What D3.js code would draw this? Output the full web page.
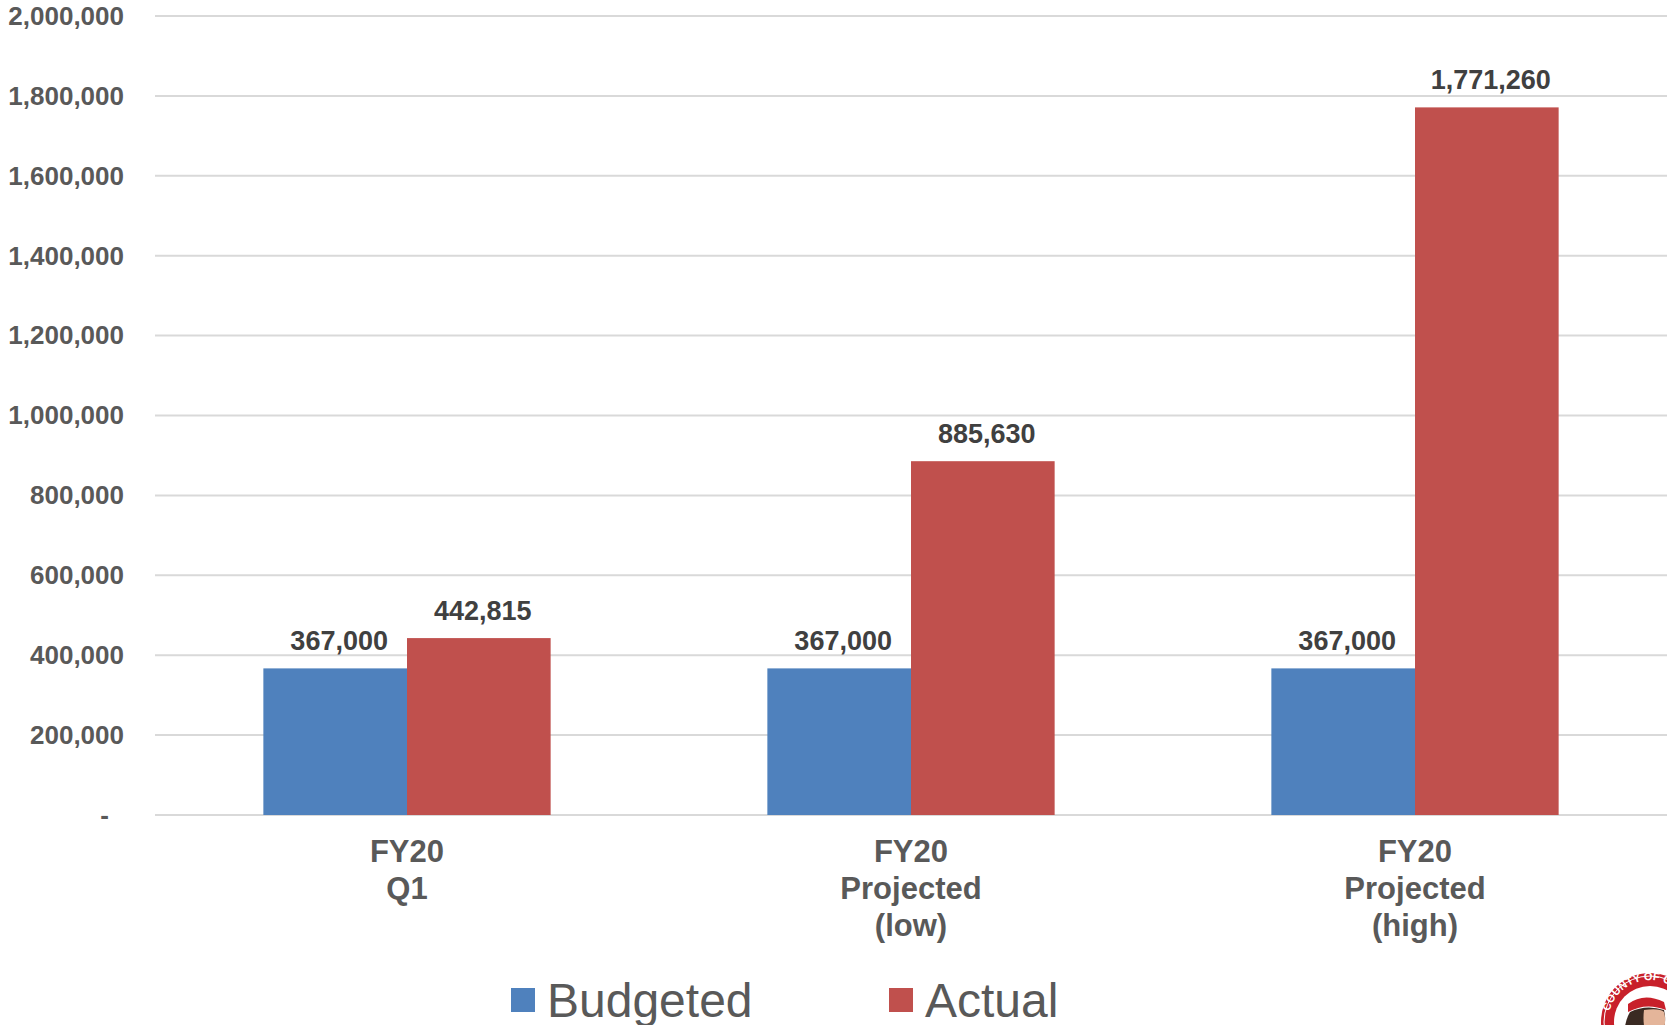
<!DOCTYPE html>
<html>
<head>
<meta charset="utf-8">
<script src="https://cdn.jsdelivr.net/npm/d3@7"></script>
<style>
  body { margin: 0; background: #fff; }
  svg { display: block; font-family: "Liberation Sans", Arial, sans-serif; }
</style>
</head>
<body>
<script>
var categories = [["FY20", "Q1"], ["FY20", "Projected", "(low)"], ["FY20", "Projected", "(high)"]];
var seriesNames = ["Budgeted", "Actual"];
var budgeted = [367000, 367000, 367000];
var actual = [442815, 885630, 1771260];
var yTicks = [0, 200000, 400000, 600000, 800000, 1000000, 1200000, 1400000, 1600000, 1800000, 2000000];

var width = 1667, height = 1025;
var colors = {Budgeted: "#4F81BD", Actual: "#C0504D"};
var fmt = d3.format(",");

var svg = d3.select("body").append("svg")
    .attr("width", width)
    .attr("height", height);

// plot edges
var plotLeft = 155, plotRight = 1667, plotTop = 16, plotBottom = 815;

var x = d3.scaleBand()
    .domain(d3.range(categories.length))
    .range([plotLeft, plotRight])
    .paddingInner(0.43)
    .paddingOuter(0.215);

var xs = d3.scaleBand()
    .domain(seriesNames)
    .range([0, x.bandwidth()]);

var y = d3.scaleLinear()
    .domain([0, 2000000])
    .range([plotBottom, plotTop]);

// gridlines
svg.append("g")
  .selectAll("line")
  .data(yTicks)
  .enter().append("line")
    .attr("x1", plotLeft)
    .attr("x2", plotRight)
    .attr("y1", function(d) { return y(d); })
    .attr("y2", function(d) { return y(d); })
    .style("stroke", "#d9d9d9")
    .style("stroke-width", "2px");

// y axis labels
var yAxis = d3.axisLeft(y)
    .tickValues(yTicks)
    .tickSize(0)
    .tickPadding(0)
    .tickFormat(function(d) { return d === 0 ? "-" : fmt(d); });

var yg = svg.append("g")
    .attr("transform", "translate(124,0)")
    .call(yAxis);
yg.select(".domain").remove();
yg.selectAll("text")
    .style("font-size", "26px")
    .style("font-weight", "bold")
    .style("fill", "#595959")
    .style("font-family", "'Liberation Sans', Arial, sans-serif")
    .attr("dx", function(d) { return d === 0 ? -15 : 0; });

// bars
var rows = categories.map(function(c, i) {
  return [{s: "Budgeted", v: budgeted[i]}, {s: "Actual", v: actual[i]}];
});

var groups = svg.append("g")
  .selectAll("g")
  .data(rows)
  .enter().append("g")
    .attr("transform", function(d, i) { return "translate(" + x(i) + ",0)"; });

groups.selectAll("rect")
  .data(function(d) { return d; })
  .enter().append("rect")
    .attr("x", function(d) { return xs(d.s); })
    .attr("width", xs.bandwidth())
    .attr("y", function(d) { return y(d.v); })
    .attr("height", function(d) { return y(0) - y(d.v); })
    .style("fill", function(d) { return colors[d.s]; });

groups.selectAll("text")
  .data(function(d) { return d; })
  .enter().append("text")
    .attr("x", function(d) { return xs(d.s) + xs.bandwidth() / 2 + 4; })
    .attr("y", function(d) { return y(d.v) - 18; })
    .attr("text-anchor", "middle")
    .style("font-size", "27px")
    .style("font-weight", "bold")
    .style("fill", "#404040")
    .text(function(d) { return fmt(d.v); });

// category labels
var cl = svg.append("g")
  .selectAll("text")
  .data(categories)
  .enter().append("text")
    .attr("x", function(d, i) { return x(i) + x.bandwidth() / 2; })
    .attr("y", 862)
    .attr("text-anchor", "middle")
    .style("font-size", "31px")
    .style("font-weight", "bold")
    .style("fill", "#595959");

cl.selectAll("tspan")
  .data(function(d) { return d; })
  .enter().append("tspan")
    .attr("x", function() { return d3.select(this.parentNode).attr("x"); })
    .attr("dy", function(d, i) { return i === 0 ? 0 : 37; })
    .text(function(d) { return d; });

// legend
var legendX = [511, 889];
var legend = svg.append("g")
  .selectAll("g")
  .data(seriesNames)
  .enter().append("g")
    .attr("transform", function(d, i) { return "translate(" + legendX[i] + ",988)"; });

legend.append("rect")
  .attr("width", 24)
  .attr("height", 24)
  .style("fill", function(d) { return colors[d]; });

legend.append("text")
  .attr("x", 36)
  .attr("y", 29)
  .style("font-size", "48px")
  .style("fill", "#595959")
  .text(function(d) { return d; });

// county seal (partial, bottom right corner)
var seal = svg.append("g").attr("transform", "translate(1650,1022)");
seal.append("circle").attr("r", 49).style("fill", "#c8202a");
seal.append("circle").attr("r", 36).style("fill", "#fff");
seal.append("circle").attr("r", 46).style("fill", "none").style("stroke", "#fff").style("stroke-width", 1);
seal.append("path")
  .attr("id", "sealArc")
  .attr("d", "M-42,0 A42,42 0 0,1 42,0")
  .style("fill", "none");
seal.append("text")
  .style("font-size", "11px")
  .style("font-weight", "bold")
  .style("fill", "#fff")
  .append("textPath")
    .attr("href", "#sealArc")
    .attr("startOffset", "8%")
    .text("COUNTY OF COCHISE");
seal.append("path")
  .attr("d", "M-22,-18 Q-6,-30 14,-20 L16,-12 Q-4,-20 -22,-10 Z")
  .style("fill", "#c8202a");
seal.append("path")
  .attr("d", "M-20,-10 Q-4,-18 14,-12 Q18,4 8,20 L-24,20 Q-28,4 -20,-10 Z")
  .style("fill", "#3a2a22");
seal.append("path")
  .attr("d", "M-6,-12 Q10,-14 14,-10 Q18,4 8,18 L-2,18 Q-8,4 -6,-12 Z")
  .style("fill", "#e4b59a");
</script>
</body>
</html>
